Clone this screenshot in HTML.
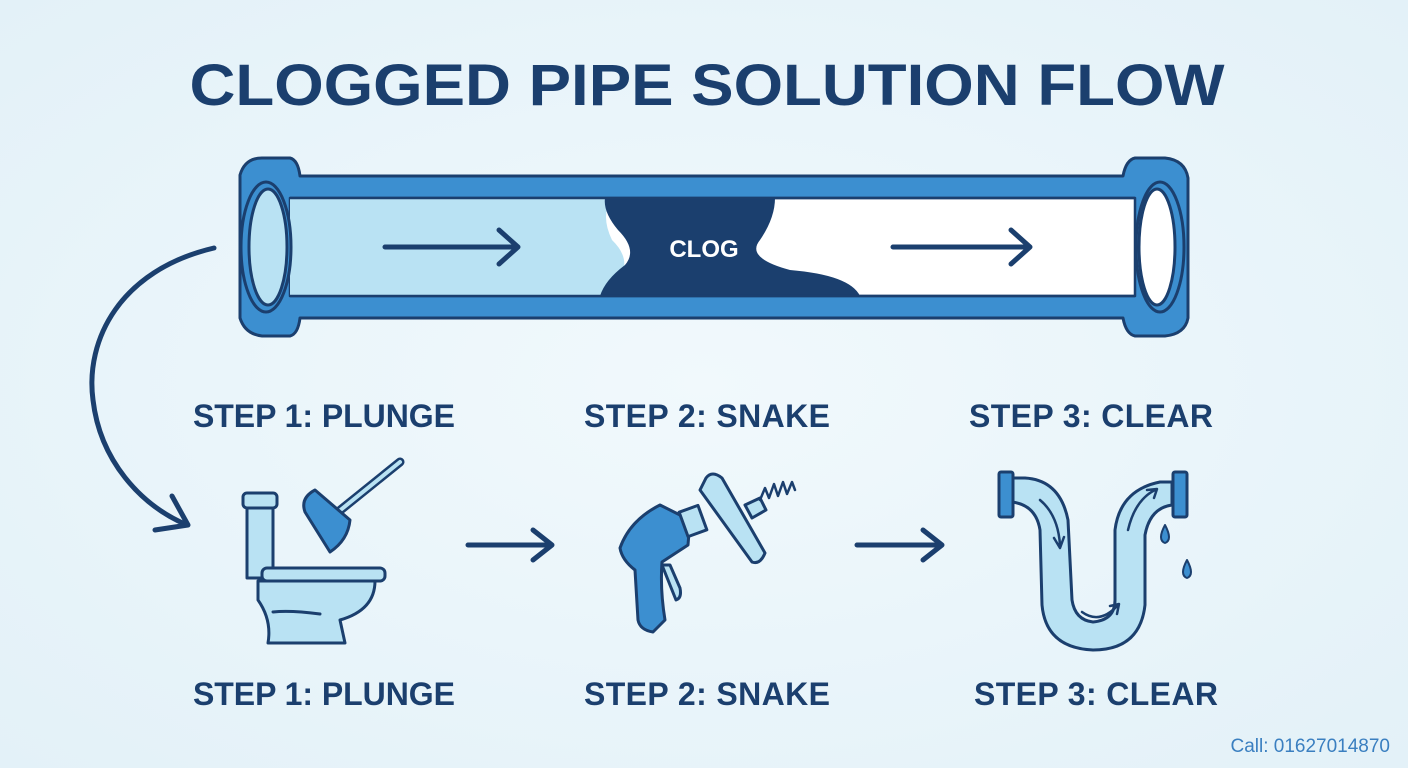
<!DOCTYPE html>
<html><head><meta charset="utf-8"><style>
html,body{margin:0;padding:0;background:#eaf5fa;}
svg{display:block}
text{font-family:"Liberation Sans",sans-serif;font-weight:bold;}
</style></head><body>
<svg width="1408" height="768" viewBox="0 0 1408 768" xmlns="http://www.w3.org/2000/svg">
<defs>
<radialGradient id="bg" cx="50%" cy="50%" r="70%"><stop offset="0" stop-color="#f1f9fc"/><stop offset="1" stop-color="#e3f1f8"/></radialGradient>
</defs>
<rect width="1408" height="768" fill="url(#bg)"/>
<text x="707" y="105" text-anchor="middle" font-size="58" fill="#1b3f6e" textLength="1035" lengthAdjust="spacingAndGlyphs">CLOGGED PIPE SOLUTION FLOW</text>

<g stroke="#1b3f6e" stroke-width="3" stroke-linejoin="round">
  <path d="M240 175 Q245 158 262 158 L290 158 Q298 160 300 176 L1123 176 Q1126 160 1135 158 L1165 158 Q1185 160 1188 178 L1188 318 Q1185 334 1165 336 L1135 336 Q1126 334 1123 318 L300 318 Q298 334 290 336 L262 336 Q245 334 240 318 Z" fill="#3c8fd0"/>
  <rect x="290" y="198" width="845" height="98" fill="#ffffff" stroke-width="2.5"/>
  <path d="M290 198 L612 198 Q600 215 612 240 Q635 262 615 285 Q606 292 605 296 L290 296 Z" fill="#b9e2f3" stroke="none"/>
  <path d="M605 198 L775 198 Q775 218 760 240 Q745 258 790 270 Q850 275 860 296 L600 296 Q605 280 625 265 Q638 250 618 230 Q603 212 605 198 Z" fill="#1b3f6e" stroke="none"/>
  <line x1="290" y1="198" x2="1135" y2="198" stroke-width="2.5"/>
  <line x1="290" y1="296" x2="1135" y2="296" stroke-width="2.5"/>
  <ellipse cx="266" cy="247" rx="25" ry="65" fill="#3c8fd0"/>
  <ellipse cx="268" cy="247" rx="19" ry="58" fill="#b9e2f3"/>
  <ellipse cx="1160" cy="247" rx="24" ry="65" fill="#3c8fd0"/>
  <ellipse cx="1157" cy="247" rx="18" ry="58" fill="#ffffff"/>
</g>
<text x="704" y="257" text-anchor="middle" font-size="24" fill="#ffffff">CLOG</text>
<g stroke="#1b3f6e" stroke-width="5" fill="none" stroke-linecap="round" stroke-linejoin="round">
  <path d="M385 247 L518 247 M499 230 L518 247 L499 264"/>
  <path d="M893 247 L1030 247 M1011 230 L1030 247 L1011 264"/>
  <path d="M214 248 C120 270 85 340 93 400 C100 460 140 505 187 525"/>
  <path d="M172 496 L188 525 L155 530"/>
  <path d="M468 545 L552 545 M533 530 L552 545 L533 560"/>
  <path d="M857 545 L942 545 M923 530 L942 545 L923 560"/>
</g>

<g font-size="32" fill="#1b3f6e" lengthAdjust="spacingAndGlyphs">
<text x="193" y="427" textLength="262">STEP 1: PLUNGE</text>
<text x="584" y="427" textLength="246">STEP 2: SNAKE</text>
<text x="969" y="427" textLength="244">STEP 3: CLEAR</text>
<text x="193" y="705" textLength="262">STEP 1: PLUNGE</text>
<text x="584" y="705" textLength="246">STEP 2: SNAKE</text>
<text x="974" y="705" textLength="244">STEP 3: CLEAR</text>
</g>
<text x="1390" y="752" text-anchor="end" font-size="19" fill="#3a7fc0" style="font-weight:normal">Call: 01627014870</text>

<g stroke="#1b3f6e" stroke-width="3" stroke-linejoin="round" stroke-linecap="round">
  <rect x="243" y="493" width="34" height="15" rx="4" fill="#b9e2f3"/>
  <rect x="247" y="508" width="26" height="70" fill="#b9e2f3"/>
  <rect x="262" y="568" width="123" height="13" rx="5" fill="#b9e2f3"/>
  <path d="M258 581 L375 581 Q375 610 340 620 L345 643 L268 643 Q272 620 258 600 Z" fill="#b9e2f3"/>
  <path d="M273 612 Q290 610 320 614" fill="none"/>
  <line x1="338" y1="512" x2="400" y2="462" stroke-width="9"/>
  <line x1="338" y1="512" x2="400" y2="462" stroke="#b9e2f3" stroke-width="4"/>
  <path d="M315 490 L350 520 Q348 540 330 552 L305 512 Q300 498 315 490 Z" fill="#3c8fd0"/>
</g>

<g stroke="#1b3f6e" stroke-width="3" stroke-linejoin="round" stroke-linecap="round">
  <path d="M660 505 L690 520 L688 545 L662 562 Q660 590 665 620 L653 632 Q640 630 638 620 L635 570 Q622 560 620 548 Q630 520 660 505 Z" fill="#3c8fd0"/>
  <path d="M662 565 L676 600 Q682 598 680 588 L670 565 Z" fill="#b9e2f3"/>
  <rect x="683" y="508" width="20" height="26" transform="rotate(-20 693 521)" fill="#b9e2f3"/>
  <path d="M706 478 Q712 470 722 478 L765 553 Q760 565 752 562 L700 490 Z" fill="#b9e2f3"/>
  <path d="M745 505 L760 498 L766 510 L752 518 Z" fill="#b9e2f3"/>
  <path d="M760 500 l5 -12 l4 10 l5 -14 l4 12 l5 -14 l4 12 l5 -12 l3 8" fill="none" stroke-width="2.5"/>
</g>

<g stroke="#1b3f6e" stroke-width="3" stroke-linejoin="round" stroke-linecap="round">
  <path d="M1012 478 L1025 478 Q1060 480 1068 520 L1072 600 Q1075 620 1093 622 Q1115 620 1115 600 L1115 530 Q1120 490 1160 482 L1172 482 L1172 505 Q1150 508 1145 535 L1145 605 Q1140 650 1093 650 Q1046 648 1042 605 L1040 530 Q1036 505 1012 502 Z" fill="#b9e2f3"/>
  <rect x="999" y="472" width="14" height="45" rx="2" fill="#3c8fd0"/>
  <rect x="1173" y="472" width="14" height="45" rx="2" fill="#3c8fd0"/>
  <path d="M1165 525 q-8 15 0 18 q8 -3 0 -18 z" fill="#3c8fd0" stroke-width="2"/>
  <path d="M1187 560 q-8 15 0 18 q8 -3 0 -18 z" fill="#3c8fd0" stroke-width="2"/>
</g>
<g stroke="#1b3f6e" stroke-width="2.5" fill="none" stroke-linecap="round" stroke-linejoin="round">
  <path d="M1040 500 Q1058 515 1060 545 M1054 538 L1060 548 L1064 537"/>
  <path d="M1082 612 Q1100 625 1118 605 M1110 606 L1119 604 L1117 614"/>
  <path d="M1128 530 Q1135 500 1155 490 M1147 490 L1157 489 L1154 498"/>
</g>
</svg>
</body></html>
